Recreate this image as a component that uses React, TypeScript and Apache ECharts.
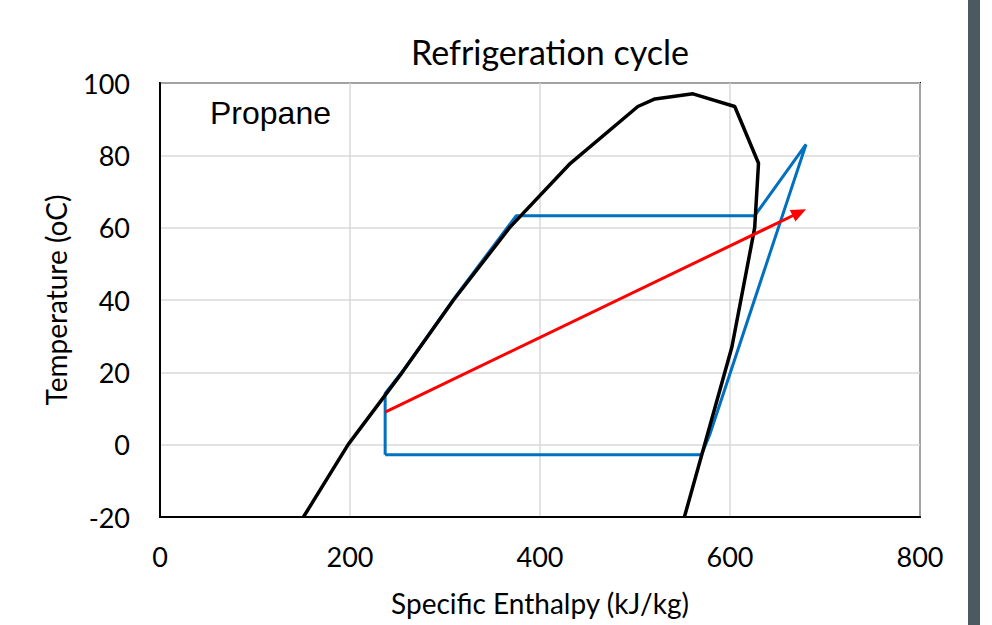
import React, { useEffect, useRef } from "react";
import * as echarts from "echarts";

// Saturation dome of propane: [specific enthalpy kJ/kg, temperature °C]
const saturatedLiquid: number[][] = [
  [151, -20], [198, 0], [255, 20], [309, 40], [368, 60], [432, 77.8],
  [503, 93.5], [521, 95.6], [561, 97],
];
const saturatedVapour: number[][] = [
  [561, 97], [605, 93.5], [630, 77.8], [626, 60], [602, 27], [552, -20],
];
// Refrigeration cycle (blue)
const cyclePoints: number[][] = [
  [237, -2.8], [570, -2.8], [579, 3], [680, 83], [626, 63.3], [375, 63.3],
  [310, 40.6], [256, 20.5], [237, 14.2], [237, -2.8],
];
// Red arrow: start and end
const arrowStart: number[] = [237, 9];
const arrowEnd: number[] = [673, 64.2];

const xTicks = { min: 0, max: 800, interval: 200 };
const yTicks = { min: -20, max: 100, interval: 20 };

const titleText = "Refrigeration cycle";
const xName = "Specific Enthalpy (kJ/kg)";
const yName = "Temperature (oC)";
const fluidLabel = "Propane";

export default function App() {
  const ref = useRef<HTMLDivElement>(null);
  useEffect(() => {
    if (!ref.current) return;
    const chart = echarts.init(ref.current, undefined, { renderer: "svg" });
    const dome = saturatedLiquid.concat(saturatedVapour.slice(1));
    const tickFont = { fontFamily: "Lato", fontSize: 27, color: "#000" };
    chart.setOption({
      animation: false,
      backgroundColor: "#fff",
      title: {
        text: titleText,
        left: 545,
        top: 29,
        textAlign: "center",
        textStyle: { fontFamily: "Lato", fontSize: 34, fontWeight: "normal", color: "#000" },
      },
      grid: {
        left: 160, top: 83, right: 72, bottom: 108,
        show: true, borderColor: "#000", borderWidth: 2,
      },
      xAxis: {
        type: "value",
        min: xTicks.min, max: xTicks.max, interval: xTicks.interval,
        name: xName, nameLocation: "middle", nameGap: 72,
        nameTextStyle: { fontFamily: "Lato", fontSize: 28, color: "#000" },
        axisLine: { show: true, onZero: false, lineStyle: { color: "#000", width: 2 } },
        axisTick: { show: false },
        axisLabel: { ...tickFont, margin: 26 },
        splitLine: { show: true, lineStyle: { color: "#d9d9d9", width: 1.5 } },
      },
      yAxis: {
        type: "value",
        min: yTicks.min, max: yTicks.max, interval: yTicks.interval,
        name: yName, nameLocation: "middle", nameGap: 90, nameRotate: 90,
        nameTextStyle: { fontFamily: "Lato", fontSize: 28, color: "#000" },
        axisLine: { show: true, onZero: false, lineStyle: { color: "#000", width: 2 } },
        axisTick: { show: false },
        axisLabel: { ...tickFont, margin: 30 },
        splitLine: { show: true, lineStyle: { color: "#d9d9d9", width: 1.5 } },
      },
      graphic: [
        {
          type: "text", left: 210, top: 97,
          style: { text: fluidLabel, fontFamily: "Liberation Sans", fontSize: 32, fill: "#000" },
        },
        {
          type: "rect", shape: { x: 968, y: 0, width: 12, height: 625 },
          style: { fill: "#4b5a60" },
        },
      ],
      series: [
        {
          type: "line", data: cyclePoints, showSymbol: false, symbol: "none",
          lineStyle: { color: "#0070c0", width: 3 }, z: 2,
        },
        {
          type: "line", data: dome, showSymbol: false, symbol: "none",
          lineStyle: { color: "#000", width: 3.5 }, z: 3,
        },
        {
          type: "line", data: [], showSymbol: false, z: 4,
          markLine: {
            silent: true, animation: false,
            symbol: ["none", "triangle"], symbolSize: [13, 15],
            label: { show: false },
            lineStyle: { color: "#ff0000", width: 3, type: "solid" },
            data: [[{ coord: arrowStart }, { coord: arrowEnd }]],
          },
        },
      ],
    });
    return () => chart.dispose();
  }, []);
  return <div ref={ref} style={{ width: 992, height: 625, position: "absolute", left: 0, top: 0 }} />;
}
